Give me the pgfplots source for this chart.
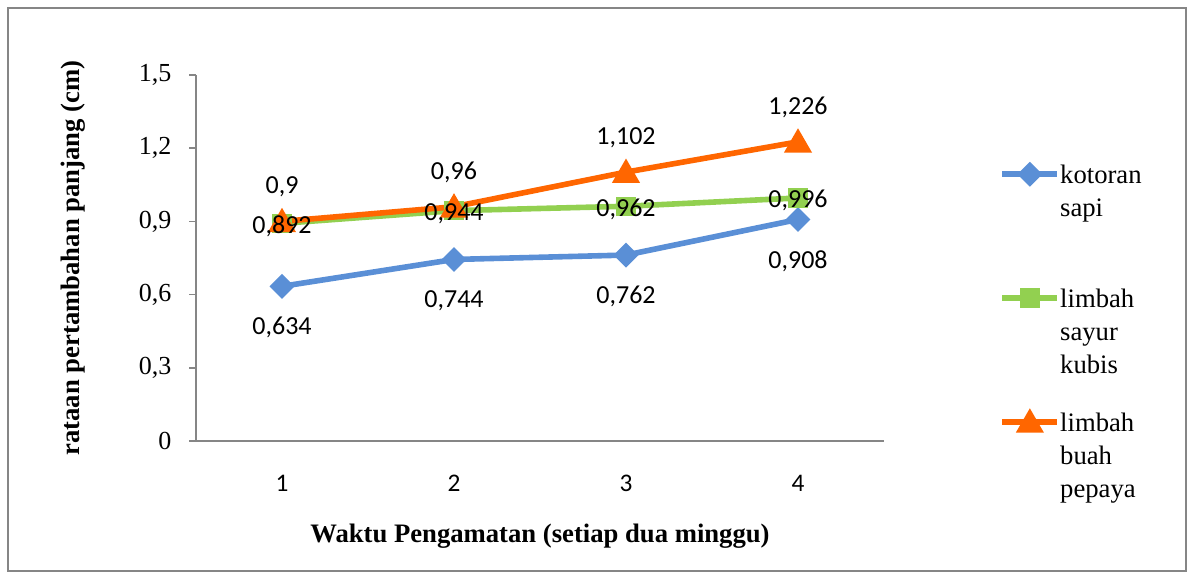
\documentclass[border=0pt]{standalone}
\usepackage{fontspec}
\setmainfont{Liberation Serif}
\newfontfamily\calfont{Carlito}
\usepackage{pgfplots}
\pgfplotsset{compat=1.18}
\definecolor{cblue}{HTML}{5A8FD6}
\definecolor{cgreen}{HTML}{92D050}
\definecolor{corange}{HTML}{FF6600}
\definecolor{axgray}{HTML}{868686}
\tikzset{label node/.style={font=\calfont\fontsize{19.5}{22}\selectfont, anchor=center}}
\begin{document}
\begin{tikzpicture}
\useasboundingbox (-147pt,-103.5pt) rectangle (748.5pt,330.75pt);
\draw[axgray, line width=1.5pt] (-141pt,-97.5pt) rectangle (742.5pt,324.75pt);
\begin{axis}[
  at={(0pt,0pt)}, anchor=south west,
  scale only axis, width=516pt, height=274.5pt,
  xmin=0.5, xmax=4.5, ymin=0, ymax=1.5,
  xtick={1,2,3,4}, ytick={0,0.3,0.6,0.9,1.2,1.5},
  axis x line*=bottom, axis y line*=left,
  axis line style={axgray, line width=1.2pt},
  tick align=outside, major tick length=5pt,
  xtick style={draw=none},
  ytick style={axgray, line width=1.2pt},
  yticklabel style={font=\fontsize{19.5}{22}\selectfont, xshift=-10pt, /pgf/number format/.cd, fixed, precision=1, use comma, assume math mode=true},
  xticklabel style={font=\calfont\fontsize{19}{22}\selectfont, yshift=-17pt, /pgf/number format/assume math mode=true},
  clip=false,
  every axis y label/.style={at={(axis description cs:-0.1788,0.5)}, anchor=center, rotate=90, font=\bfseries\fontsize{20}{24}\selectfont},
  every axis x label/.style={at={(axis description cs:0.5,-0.2596)}, anchor=center, font=\bfseries\fontsize{20}{24}\selectfont},
  ylabel={rataan pertambahan panjang (cm)},
  xlabel={Waktu Pengamatan (setiap dua minggu)},
  legend style={at={(axis description cs:1.168,0.754)}, anchor=north west, draw=none, fill=none, inner sep=0pt, outer sep=0pt,
    row sep=77.5pt, column sep=0pt,
    nodes={anchor=base west, text width=80pt, align=left, inner sep=0pt, font=\fontsize{20}{24.75}\selectfont}},
  legend image code/.code={\draw[#1, mark repeat=2, mark phase=2] plot coordinates {(0pt,7pt) (20.6pt,7pt) (41.25pt,7pt)};},
]
\addplot[cblue, line width=4.2pt, mark=square*, mark size=4.5pt, mark options={rotate=45, solid}]
  coordinates {(1,0.634) (2,0.744) (3,0.762) (4,0.908)};
\addlegendentry{kotoran\\sapi}
\addplot[cgreen, line width=4.2pt, mark=square*, mark size=5.2pt, mark options={solid}]
  coordinates {(1,0.892) (2,0.944) (3,0.962) (4,0.996)};
\addlegendentry{limbah\\sayur\\kubis}
\addplot[corange, line width=4.2pt, mark=triangle*, mark size=8pt, mark options={solid, yshift=-2pt}]
  coordinates {(1,0.9) (2,0.96) (3,1.102) (4,1.226)};
\addlegendentry{limbah\\buah\\pepaya}
% data labels
\addplot[draw=none, forget plot, point meta=y, nodes near coords={\pgfmathprintnumber[fixed,precision=3,use comma,assume math mode=true]{\pgfplotspointmeta}},
  every node near coord/.style={label node, yshift=-31pt}]
  coordinates {(1,0.634) (2,0.744) (3,0.762) (4,0.908)};
\addplot[draw=none, forget plot, point meta=y, nodes near coords={\pgfmathprintnumber[fixed,precision=3,use comma,assume math mode=true]{\pgfplotspointmeta}},
  every node near coord/.style={label node, yshift=-2pt}]
  coordinates {(1,0.892) (2,0.944) (3,0.962) (4,0.996)};
\addplot[draw=none, forget plot, point meta=y, nodes near coords={\pgfmathprintnumber[fixed,precision=3,use comma,assume math mode=true]{\pgfplotspointmeta}},
  every node near coord/.style={label node, yshift=26pt}]
  coordinates {(1,0.9) (2,0.96) (3,1.102) (4,1.226)};
\end{axis}
\end{tikzpicture}
\end{document}
